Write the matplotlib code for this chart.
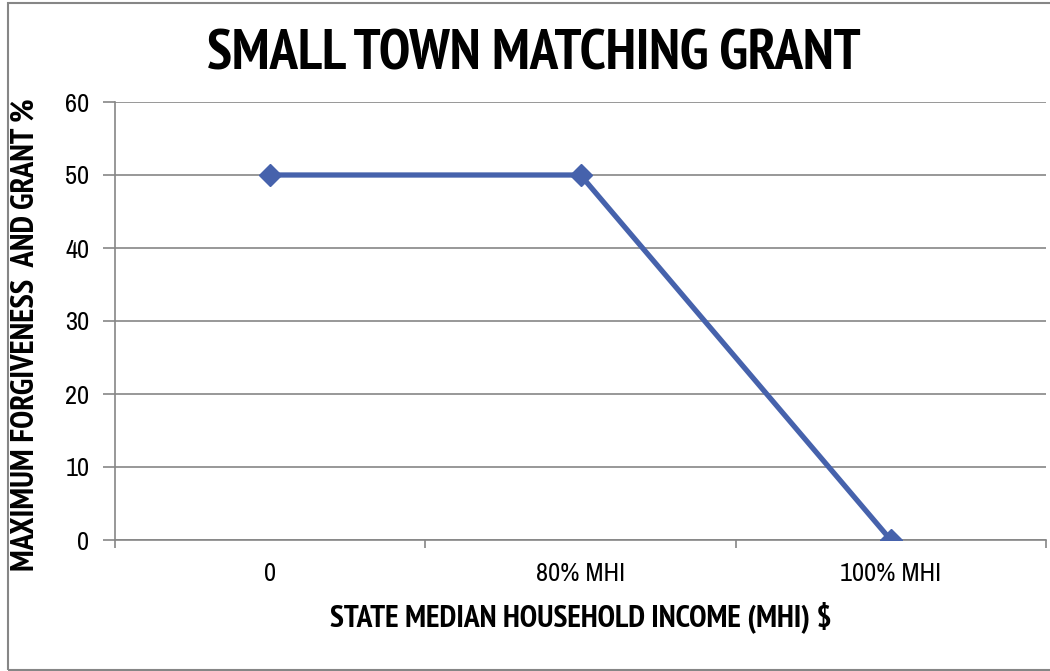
import matplotlib.pyplot as plt
from matplotlib.patches import Rectangle
from matplotlib import font_manager

categories = ["0", "80% MHI", "100% MHI"]
values = [50, 50, 0]
y_ticks = [0, 10, 20, 30, 40, 50, 60]

title = "SMALL TOWN MATCHING GRANT"
xlabel = "STATE MEDIAN HOUSEHOLD INCOME (MHI) $"
ylabel = "MAXIMUM FORGIVENESS  AND GRANT %"


def weight_of(f):
    w = f.weight
    if isinstance(w, str):
        return {"bold": 700, "semibold": 600, "demibold": 600, "heavy": 800, "black": 900}.get(w, 400)
    return w


fonts = font_manager.fontManager.ttflist
names = {f.name for f in fonts}
narrow = next((n for n in ["Archivo Narrow", "PT Sans Narrow", "Liberation Sans"] if n in names), "DejaVu Sans")
bold_prefs = ["PT Sans Narrow", "Roboto Condensed", "IBM Plex Sans Condensed", "Fira Sans Condensed",
              "Open Sans Condensed", "Liberation Sans"]
boldfam = next((n for n in bold_prefs if any(f.name == n and weight_of(f) >= 650 for f in fonts)), "DejaVu Sans")
plt.rcParams["font.family"] = [narrow, "DejaVu Sans"]

W, H = 1050, 671
fig = plt.figure(figsize=(W / 100, H / 100), dpi=100)
ax = fig.add_axes([115 / W, 1 - 540 / H, (1046 - 115) / W, (540 - 102) / H])

x = list(range(len(categories)))
ax.plot(x, values, color="#4662AC", lw=3.8, marker="D", markersize=11, zorder=3)

grey = "#868686"
ax.set_xlim(-0.5, len(categories) - 0.5)
ax.set_ylim(0, 60)
ax.set_yticks(y_ticks)
ax.set_xticks(x)
ax.set_xticklabels(categories)
ax.set_xticks([-0.5, 0.5, 1.5, 2.5], minor=True)
ax.tick_params(axis="x", which="major", length=0, pad=16, labelsize=19)
ax.tick_params(axis="x", which="minor", length=6, width=1.2, color=grey)
ax.tick_params(axis="y", length=8.5, width=1.2, color=grey, labelsize=19, pad=10)
ax.grid(axis="y", color=grey, lw=1.2)
ax.set_axisbelow(True)
for s in ["top", "right"]:
    ax.spines[s].set_visible(False)
for s in ["left", "bottom"]:
    ax.spines[s].set_color(grey)
    ax.spines[s].set_linewidth(1.2)

bf = [boldfam, "DejaVu Sans"]
t_x = ax.set_xlabel(xlabel, fontsize=20, fontweight="bold", family=bf)
ax.xaxis.set_label_coords(0.5, -0.139)
t_y = ax.set_ylabel(ylabel, fontsize=20, fontweight="bold", family=bf)
ax.yaxis.set_label_coords(-0.0795, 0.468)
t_t = fig.text(534 / W, 1 - 70 / H, title, fontsize=36, fontweight="bold", family=bf,
               ha="center", va="baseline")

# scale the text sizes so their lengths match the reference
fig.canvas.draw()
r = fig.canvas.get_renderer()
for t, target, horiz in [(t_t, 655, True), (t_x, 500, True), (t_y, 470, False)]:
    bb = t.get_window_extent(r)
    cur = bb.width if horiz else bb.height
    t.set_fontsize(t.get_fontsize() * target / cur)

fig.patches.append(Rectangle((7.5 / W, 1.5 / H), 1.2, 1 - 4.5 / H, transform=fig.transFigure,
                             fill=False, edgecolor=grey, lw=1.5))

fig.savefig("out.png", dpi=100)
